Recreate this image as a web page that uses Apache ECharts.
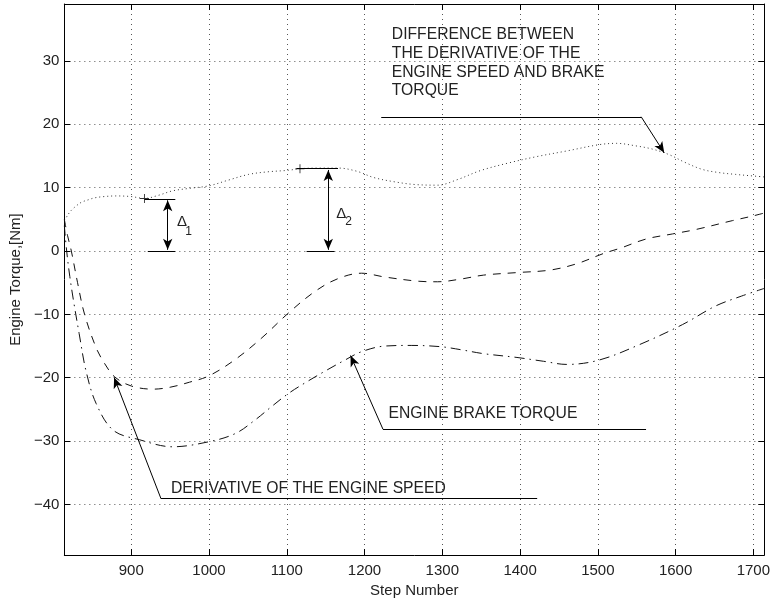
<!DOCTYPE html>
<html>
<head>
<meta charset="utf-8">
<script src="https://cdn.jsdelivr.net/npm/echarts@6/dist/echarts.min.js"></script>
<style>
  html, body { margin: 0; padding: 0; background: #fff; }
  #chart { width: 773px; height: 603px; }
</style>
</head>
<body>
<div id="chart"></div>
<script>
// difference between derivative of engine speed and brake torque (dotted)
const diffStep = [814, 818, 822, 829, 836, 845, 853, 865, 880, 900, 917, 935, 953, 975, 1000, 1025, 1051, 1075, 1102, 1117, 1140, 1166, 1190, 1212, 1240, 1265, 1294, 1320, 1349, 1385, 1421, 1460, 1502, 1524, 1549, 1570, 1592, 1612, 1634, 1655, 1677, 1695, 1714];
const diffTorque = [4.8, 5.6, 6.3, 7.1, 7.7, 8.1, 8.4, 8.6, 8.7, 8.6, 8.3, 8.8, 9.5, 9.9, 10.3, 11.2, 12.1, 12.5, 12.75, 13.0, 13.1, 13.1, 12.6, 11.6, 10.9, 10.5, 10.4, 11.3, 12.7, 13.9, 14.9, 15.8, 16.8, 17.0, 16.6, 16.1, 15.2, 14.0, 12.9, 12.4, 12.1, 11.9, 11.7];

// derivative of the engine speed (dashed)
const derivStep = [814, 818, 823, 831, 840, 855, 866, 879, 900, 928, 950, 975, 1000, 1034, 1068, 1102, 1136, 1165, 1196, 1226, 1268, 1294, 1325, 1353, 1396, 1439, 1473, 1507, 1530, 1562, 1596, 1626, 1673, 1698, 1714];
const derivTorque = [5.0, 2.5, 0, -5, -10, -15.3, -17.8, -19.9, -21.3, -21.8, -21.5, -20.7, -19.7, -17.1, -13.7, -9.8, -6.4, -4.4, -3.5, -4.1, -4.75, -4.85, -4.4, -3.8, -3.4, -3.0, -2.0, -0.4, 0.5, 1.9, 2.7, 3.4, 4.8, 5.5, 6.0];

// engine brake torque (dash-dot)
const brakeStep = [814, 817, 821, 826, 833, 842, 855, 877, 911, 953, 1000, 1034, 1060, 1080, 1102, 1125, 1150, 1175, 1196, 1226, 1260, 1298, 1325, 1353, 1396, 1430, 1460, 1502, 1553, 1609, 1651, 1685, 1714];
const brakeTorque = [4, 0, -4, -8, -13, -19, -24.1, -28.3, -29.8, -30.9, -30.1, -28.8, -26.6, -24.6, -22.5, -20.7, -18.9, -17.2, -15.9, -15.0, -14.9, -15.1, -15.6, -16.2, -16.8, -17.4, -17.9, -17.2, -14.8, -11.6, -8.7, -7.1, -5.9];

// points marked with "+" on the difference curve
const markStep = [917, 1117];
const markTorque = [8.3, 13.0];

const xTicks = [900, 1000, 1100, 1200, 1300, 1400, 1500, 1600, 1700];
const yTicks = [-40, -30, -20, -10, 0, 10, 20, 30];

const pairs = (xs, ys) => xs.map((x, i) => [x, ys[i]]);

const chart = echarts.init(document.getElementById('chart'), null, { renderer: 'canvas' });

const font = 'Liberation Sans, Arial, Helvetica, sans-serif';
const ink = '#111';
const xMin = 814, xMax = 1714, yMin = -48, yMax = 39;

// annotation lines (data coords)
const plain = (a, b) => [{ coord: a, symbol: 'none' }, { coord: b, symbol: 'none' }];
const arrow = (a, b) => [{ coord: a, symbol: 'none' }, { coord: b, symbol: 'arrow' }];
const both = (a, b) => [{ coord: a, symbol: 'arrow' }, { coord: b, symbol: 'arrow' }];

const text = (coord, str, opt) => ({
  coord: coord,
  symbol: 'circle',
  symbolSize: 1,
  itemStyle: { color: 'rgba(0,0,0,0)' },
  label: Object.assign({
    show: true,
    position: 'inside',
    formatter: str,
    align: 'left',
    verticalAlign: 'middle',
    color: '#222',
    fontFamily: font,
    fontSize: 15.7,
    lineHeight: 18.7
  }, opt || {})
});

const option = {
  animation: false,
  backgroundColor: '#fff',
  grid: { left: 61, right: 8, top: 4, bottom: 45 },
  xAxis: [
    {
      type: 'value', min: xMin, max: xMax, position: 'bottom',
      name: 'Step Number', nameLocation: 'middle', nameGap: 27,
      nameTextStyle: { color: '#222', fontFamily: font, fontSize: 15 },
      axisLine: { onZero: false, lineStyle: { color: '#000', width: 1 } },
      axisTick: { inside: true, length: 6, customValues: xTicks, lineStyle: { color: '#000' } },
      axisLabel: {
        customValues: xTicks, margin: 8, color: '#222', fontFamily: font, fontSize: 15,
        formatter: v => String(v)
      },
      splitLine: { show: true, lineStyle: { color: '#555', width: 1, type: [1, 4] } }
    },
    {
      type: 'value', min: xMin, max: xMax, position: 'top',
      axisLine: { onZero: false, lineStyle: { color: '#000', width: 1 } },
      axisTick: { inside: true, length: 6, customValues: xTicks, lineStyle: { color: '#000' } },
      axisLabel: { show: false },
      splitLine: { show: false }
    }
  ],
  yAxis: [
    {
      type: 'value', min: yMin, max: yMax, position: 'left',
      name: 'Engine Torque,[Nm]', nameLocation: 'middle', nameGap: 34,
      nameTextStyle: { color: '#222', fontFamily: font, fontSize: 15 },
      axisLine: { onZero: false, lineStyle: { color: '#000', width: 1 } },
      axisTick: { inside: true, length: 6, customValues: yTicks, lineStyle: { color: '#000' } },
      axisLabel: {
        customValues: yTicks, margin: 5, color: '#222', fontFamily: font, fontSize: 15,
        formatter: v => String(v).replace('-', '\u2212')
      },
      splitLine: { show: true, lineStyle: { color: '#555', width: 1, type: [1, 4] } }
    },
    {
      type: 'value', min: yMin, max: yMax, position: 'right',
      axisLine: { onZero: false, lineStyle: { color: '#000', width: 1 } },
      axisTick: { inside: true, length: 6, customValues: yTicks, lineStyle: { color: '#000' } },
      axisLabel: { show: false },
      splitLine: { show: false }
    }
  ],
  series: [
    {
      name: 'difference', type: 'line', smooth: 0.35, showSymbol: false, silent: true,
      data: pairs(diffStep, diffTorque),
      lineStyle: { color: '#333', width: 1, type: [1, 3] }
    },
    {
      name: 'derivative', type: 'line', smooth: 0.35, showSymbol: false, silent: true,
      data: pairs(derivStep, derivTorque),
      lineStyle: { color: ink, width: 1, type: [8, 7] }
    },
    {
      name: 'brake', type: 'line', smooth: 0.35, showSymbol: false, silent: true,
      data: pairs(brakeStep, brakeTorque),
      lineStyle: { color: ink, width: 1, type: [10, 5, 1.5, 5] }
    },
    {
      name: 'marks', type: 'scatter', silent: true,
      symbol: 'path://M4.5,0H5.5V10H4.5ZM0,4.5H10V5.5H0Z', symbolSize: 9,
      itemStyle: { color: '#000' },
      data: pairs(markStep, markTorque),
      markLine: {
        silent: true,
        symbolSize: [7, 11],
        label: { show: false },
        emphasis: { disabled: true },
        lineStyle: { color: '#000', width: 1, type: 'solid' },
        data: [
          // difference label leader
          plain([1221.5, 21.2], [1555.7, 21.2]),
          arrow([1555.7, 21.2], [1585.4, 15.5]),
          // engine brake torque leader
          plain([1562, -28.1], [1223.6, -28.1]),
          arrow([1223.6, -28.1], [1182, -16.5]),
          // derivative leader
          plain([1422, -39.1], [938.3, -39.1]),
          arrow([938.3, -39.1], [878, -19.95]),
          // delta 1
          plain([917, 8.2], [956.7, 8.2]),
          plain([921.3, 0], [956.7, 0]),
          both([946.9, 8.0], [946.9, 0.2]),
          // delta 2
          plain([1112.7, 13.0], [1165.9, 13.0]),
          plain([1125.5, 0], [1161.3, 0]),
          both([1153.4, 12.8], [1153.4, 0.2])
        ]
      },
      markPoint: {
        silent: true,
        data: [
          text([1235.1, 29.7], 'DIFFERENCE BETWEEN\nTHE DERIVATIVE OF THE\nENGINE SPEED AND BRAKE\nTORQUE'),
          text([1230.8, -25.65], 'ENGINE BRAKE TORQUE'),
          text([951.1, -37.5], 'DERIVATIVE OF THE ENGINE SPEED'),
          text([965.4, 4.55], '\u0394', { align: 'center', fontSize: 15 }),
          text([973.7, 3.1], '1', { align: 'center', fontSize: 12 }),
          text([1170, 5.85], '\u0394', { align: 'center', fontSize: 15 }),
          text([1179.5, 4.7], '2', { align: 'center', fontSize: 12 })
        ]
      }
    }
  ]
};

chart.setOption(option);
</script>
</body>
</html>
